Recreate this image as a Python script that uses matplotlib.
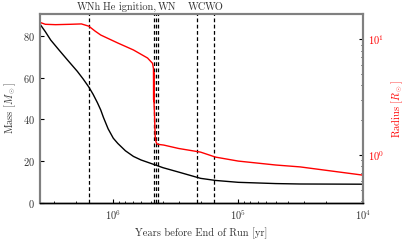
import matplotlib
matplotlib.use('Agg')
import matplotlib.pyplot as plt
import matplotlib.transforms as mtransforms
import numpy as np

plt.rcParams['font.family'] = 'serif'
plt.rcParams['font.serif'] = ['cmr10', 'DejaVu Serif']
plt.rcParams['mathtext.fontset'] = 'cm'
plt.rcParams['axes.formatter.use_mathtext'] = True

# mass track (years before end of run, Msun)
mass_years = [3.85e6, 3.5e6, 3.17e6, 2.7e6, 2.33e6, 1.94e6, 1.75e6, 1.57e6,
              1.45e6, 1.34e6, 1.26e6, 1.20e6, 1.1e6, 1.0e6, 9.2e5, 8.0e5,
              6.9e5, 6.0e5, 4.76e5, 4.0e5, 3.0e5, 2.0e5, 1.52e5, 1.0e5,
              5.0e4, 3.2e4, 1.0e4]
mass = [85.5, 82.0, 78.0, 73.0, 68.5, 63.0, 59.5, 55.5,
        52.0, 48.0, 44.5, 41.0, 35.5, 31.0, 28.5, 25.0,
        22.3, 20.6, 18.5, 16.9, 14.8, 11.8, 10.8, 9.9,
        9.3, 9.1, 9.0]

# radius track (years before end of run, Rsun)
rad_years = [3.85e6, 3.5e6, 2.9e6, 2.2e6, 1.8e6, 1.57e6, 1.4e6, 1.26e6, 9.2e5,
             6.9e5, 5.32e5, 4.85e5, 4.77e5, 4.755e5, 4.745e5, 4.735e5,
             4.725e5, 4.715e5, 4.70e5, 4.62e5, 4.55e5, 4.45e5, 3.95e5,
             3.0e5, 2.0e5, 1.52e5, 1.0e5, 5.0e4, 3.2e4, 1.0e4]
radius = [14.0, 13.5, 13.4, 13.5, 13.6, 13.0, 11.8, 10.9, 9.3,
          8.1, 6.9, 6.2, 5.6, 3.0, 5.2, 2.9, 4.4, 2.7, 2.6, 1.45, 1.3, 1.24, 1.22,
          1.14, 1.06, 0.96, 0.887, 0.82, 0.79, 0.67]

# phase markers
phase_years = [1.57e6, 4.70e5, 4.59e5, 4.40e5, 2.13e5, 1.55e5]
phase_labels = ['WNh', 'He ignition,', 'WN', 'WC', 'WO']
label_years = [1.57e6, 4.56e5, 4.42e5, 2.13e5, 1.55e5]
label_ha = ['center', 'right', 'left', 'center', 'center']

fig = plt.figure(figsize=(4.07, 2.44), dpi=100)
ax = fig.add_axes([0.0983, 0.168, 0.794, 0.775])
ax2 = ax.twinx()

ax.plot(mass_years, mass, color='black', lw=1.0)
ax2.plot(rad_years, radius, color='red', lw=1.0)

for yr in phase_years:
    ax.axvline(yr, color='black', ls='--', lw=0.9, dashes=(3, 2))

trans = mtransforms.blended_transform_factory(ax.transData, ax.transAxes)
for lab, yr, ha in zip(phase_labels, label_years, label_ha):
    ax.text(yr, 1.012, lab, transform=trans, ha=ha, va='bottom', fontsize=7.5,
            color='#333333')

ax.set_xscale('log')
ax.set_xlim(3.86e6, 1e4)
ax.set_ylim(0, 90.5)
ax2.set_yscale('log')
ax2.set_ylim(0.385, 16.6)

ax.set_yticks([0, 20, 40, 60, 80])
ax.set_xlabel('Years before End of Run [yr]', fontsize=7.5, color='#333333')
ax.set_ylabel(r'Mass $[M_\odot]$', fontsize=7.5, color='#333333')
ax2.set_ylabel(r'Radius $[R_\odot]$', fontsize=7.5, color='red')

ax.tick_params(which='both', direction='in', labelsize=7.5, labelcolor='#333333')
ax.tick_params(which='major', length=3)
ax.tick_params(which='minor', length=1.5)
ax2.tick_params(which='both', direction='in', labelsize=7.5, labelcolor='red')
ax2.tick_params(which='major', length=3)
ax2.tick_params(which='minor', length=1.5)

for a in (ax, ax2):
    for side in ('left', 'right', 'top'):
        a.spines[side].set_color('gray')
        a.spines[side].set_linewidth(1.5)
    a.spines['bottom'].set_color('black')
    a.spines['bottom'].set_linewidth(1.0)

fig.savefig('out.png', dpi=100)
